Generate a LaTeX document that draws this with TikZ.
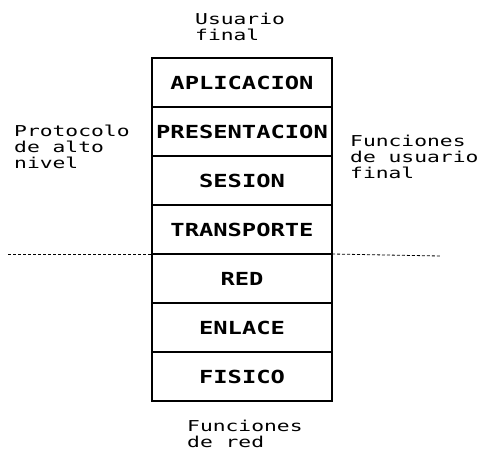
\documentclass[tikz,border=0pt]{standalone}
\usepackage{fontspec}
\newfontfamily\matriz[FakeStretch=1.32]{DejaVu Sans Mono}
\newfontfamily\matrizancha[FakeStretch=1.42]{DejaVu Sans Mono}
\usetikzlibrary{positioning}

\begin{document}
\begin{tikzpicture}[x=1pt, y=1pt,
    capa/.style={draw, line width=1.3pt, minimum width=180pt, minimum height=49pt,
      outer sep=0pt, inner sep=0pt, font=\matriz\bfseries\fontsize{18}{20}\selectfont},
    etiqueta/.style={align=left, inner sep=0pt, anchor=north west,
      font=\matrizancha\fontsize{15}{16}\selectfont},
    corte/.style={line width=0.8pt, dash pattern=on 3pt off 2pt}]
  \useasboundingbox (0,0) rectangle (497,450);

  % Pila de capas
  \node[capa] (aplicacion) at (242,367.5) {APLICACION};
  \node[capa, below=0pt of aplicacion] (presentacion) {PRESENTACION};
  \node[capa, below=0pt of presentacion] (sesion) {SESION};
  \node[capa, below=0pt of sesion] (transporte) {TRANSPORTE};
  \node[capa, below=0pt of transporte] (red) {RED};
  \node[capa, below=0pt of red] (enlace) {ENLACE};
  \node[capa, below=0pt of enlace] (fisico) {FISICO};

  % Textos alrededor
  \node[etiqueta] (usuario) at (195,437) {Usuario\\final};
  \node[etiqueta] (protocolo) at (14,325) {Protocolo\\de alto\\nivel};
  \node[etiqueta] (funusuario) at (350,315) {Funciones\\de usuario\\final};
  \node[etiqueta] (funred) at (187,30) {Funciones\\de red};

  % Linea de corte entre transporte y red
  \coordinate (corteizq) at (8,196);
  \coordinate (corteder) at (440,194);
  \draw[corte] (corteizq) -- (transporte.south west);
  \draw[corte] (transporte.south east) -- (corteder);
\end{tikzpicture}
\end{document}
